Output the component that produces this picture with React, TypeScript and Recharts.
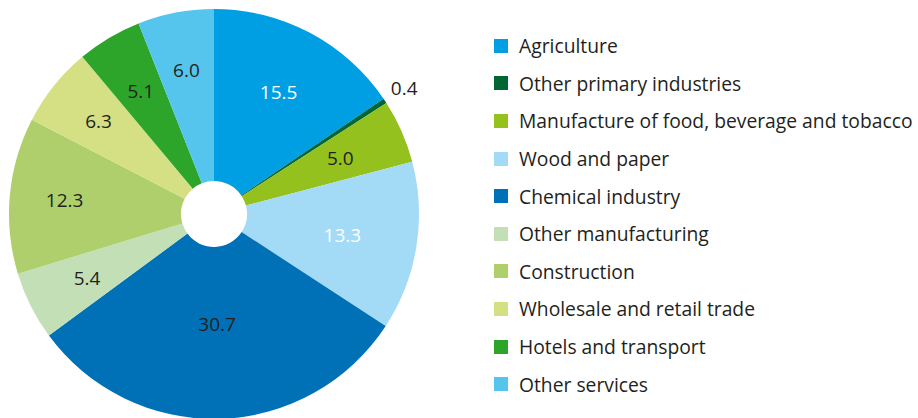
import React from 'react'
import { PieChart, Pie, Cell, Legend } from 'recharts'

const sectors = [
  'Agriculture',
  'Other primary industries',
  'Manufacture of food, beverage and tobacco',
  'Wood and paper',
  'Chemical industry',
  'Other manufacturing',
  'Construction',
  'Wholesale and retail trade',
  'Hotels and transport',
  'Other services',
]

const shares = [15.5, 0.4, 5.0, 13.3, 30.7, 5.4, 12.3, 6.3, 5.1, 6.0]

const colors = [
  '#009fe3', '#006633', '#95c11f', '#a3daf5', '#0071b7',
  '#c2dfb5', '#afcf6d', '#d5e085', '#2ca52a', '#55c5ee',
]

const labelColors = [
  '#ffffff', '#231f20', '#231f20', '#ffffff', '#231f20',
  '#231f20', '#231f20', '#231f20', '#231f20', '#231f20',
]

// distance of each value label from the centre
const labelRadius = [138, 228, 138, 130, 110, 142, 150, 148, 143, 147]

const FONT = '"Open Sans", sans-serif'
const RAD = Math.PI / 180

const chartData = sectors.map((name, i) => ({ name, value: shares[i] }))

const renderLabel = (props: any) => {
  const { cx, cy, midAngle, index, value } = props
  const r = labelRadius[index]
  const x = cx + r * Math.cos(-midAngle * RAD)
  const y = cy + r * Math.sin(-midAngle * RAD)
  return (
    <text
      x={x}
      y={y}
      fill={labelColors[index]}
      textAnchor="middle"
      dominantBaseline="central"
      fontSize={19}
      fontFamily={FONT}
    >
      {value.toFixed(1)}
    </text>
  )
}

const renderLegend = () => (
  <div style={{ fontFamily: FONT, fontSize: 19.3, color: '#231f20' }}>
    {sectors.map((name, i) => (
      <div key={name} style={{ display: 'flex', alignItems: 'center', height: 37.6 }}>
        <span style={{ width: 14, height: 14, background: colors[i], marginRight: 11, flexShrink: 0 }} />
        <span style={{ whiteSpace: 'nowrap' }}>{name}</span>
      </div>
    ))}
  </div>
)

const App: React.FC = () => {
  return (
    <div style={{ position: 'fixed', left: 0, top: 0, width: 918, height: 418, background: '#ffffff' }}>
      <PieChart width={918} height={418}>
        <Pie
          data={chartData}
          dataKey="value"
          nameKey="name"
          cx={209}
          cy={209}
          innerRadius={33}
          outerRadius={205}
          startAngle={90}
          endAngle={-270}
          stroke="none"
          label={renderLabel}
          labelLine={false}
          isAnimationActive={false}
        >
          {chartData.map((d, i) => (
            <Cell key={d.name} fill={colors[i]} />
          ))}
        </Pie>
        <Legend
          content={renderLegend}
          wrapperStyle={{ left: 494, top: 27, width: 424 }}
        />
      </PieChart>
    </div>
  )
}

export default App
